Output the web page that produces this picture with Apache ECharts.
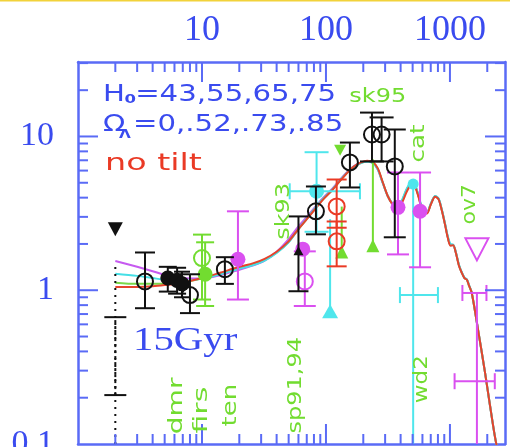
<!DOCTYPE html>
<html>
<head>
<meta charset="utf-8">
<script src="https://cdn.jsdelivr.net/npm/echarts@6/dist/echarts.min.js"></script>
<style>
  html, body { margin: 0; padding: 0; background: #ffffff; }
  #chart { width: 510px; height: 447px; }
</style>
</head>
<body>
<div id="chart"></div>
<script>
// Axis ranges: multipole l (x) and band power (y), both logarithmic
const L_RANGE = [1, 2780];
const P_RANGE = [0.1, 30.5];

// Tick labels and tick marks
const X_TICK_LABELS = [10, 100, 1000];
const Y_TICK_LABELS = [0.1, 1, 10];
const X_MAJOR_TICKS = [10, 100, 1000];
const X_MINOR_TICKS = [2, 3, 4, 5, 6, 7, 8, 9, 20, 30, 40, 50, 60, 70, 80, 90,
  200, 300, 400, 500, 600, 700, 800, 900, 2000];
const Y_MAJOR_TICKS = [1, 10];
const Y_MINOR_TICKS = [0.2, 0.3, 0.4, 0.5, 0.6, 0.7, 0.8, 0.9,
  2, 3, 4, 5, 6, 7, 8, 9, 20, 30];

// Model power spectra [l, power], one per Hubble constant / Lambda pair
const modelMagenta = [[2,1.55],[3,1.42],[4,1.33],[5,1.26],[7,1.2],[10,1.19],[14,1.25],[20,1.36],[26,1.45],[32,1.56],[40,1.78],[50,2.15],[60,2.6],[70,3.0],[80,3.4],[95,4.0],[113,4.6],[137,5.5],[165,6.35],[190,6.75],[215,6.9],[240,6.7],[262,6.1],[288,4.95],[315,4.1],[345,3.62],[375,3.42],[410,3.8],[450,4.5],[490,4.95],[520,4.85],[560,4.05],[605,3.25],[650,3.18],[700,3.62],[760,4.08],[810,3.92],[860,3.32],[910,2.72],[960,2.22],[1010,1.97],[1060,1.97],[1110,1.79],[1180,1.46],[1250,1.29],[1310,1.2],[1370,1.17],[1420,1.08],[1500,0.96],[1700,0.53],[1920,0.29],[2100,0.18],[2300,0.113],[2500,0.08]];
const modelGreen = [[2,1.12],[3,1.1],[4,1.1],[5,1.1],[7,1.13],[10,1.19],[14,1.28],[20,1.39],[26,1.47],[32,1.57],[40,1.76],[50,2.06],[60,2.5],[70,2.9],[80,3.32],[95,3.92],[113,4.52],[137,5.42],[165,6.3],[190,6.72],[215,6.9],[240,6.75],[262,6.15],[288,4.98],[315,4.1],[345,3.62],[375,3.42],[410,3.8],[450,4.55],[490,5.0],[520,4.85],[560,4.05],[605,3.25],[650,3.18],[700,3.62],[760,4.08],[810,3.92],[860,3.32],[910,2.72],[960,2.22],[1010,1.97],[1060,1.97],[1110,1.79],[1180,1.46],[1250,1.29],[1310,1.2],[1370,1.17],[1420,1.08],[1500,0.96],[1700,0.53],[1920,0.29],[2100,0.18],[2300,0.113],[2500,0.08]];
const modelCyan = [[2,1.28],[3,1.24],[4,1.2],[5,1.17],[7,1.15],[10,1.19],[14,1.27],[20,1.38],[26,1.46],[32,1.56],[40,1.75],[50,2.05],[60,2.5],[70,2.92],[80,3.35],[95,3.95],[113,4.55],[137,5.45],[165,6.3],[190,6.7],[215,6.85],[240,6.7],[262,6.1],[288,4.95],[315,4.1],[345,3.65],[375,3.45],[410,3.85],[450,4.6],[490,5.05],[520,4.9],[560,4.1],[605,3.3],[650,3.2],[700,3.65],[760,4.1],[810,3.95],[860,3.35],[910,2.75],[960,2.25],[1010,2.0],[1060,1.98],[1110,1.8],[1180,1.47],[1250,1.3],[1310,1.21],[1370,1.18],[1420,1.09],[1500,0.96],[1700,0.53],[1920,0.29],[2100,0.18],[2300,0.113],[2500,0.08]];
const modelRed = [[2,1.05],[3,1.05],[4,1.06],[5,1.08],[7,1.12],[10,1.2],[14,1.3],[20,1.42],[26,1.5],[32,1.6],[40,1.78],[50,2.08],[60,2.5],[70,2.9],[80,3.3],[95,3.9],[113,4.5],[137,5.4],[165,6.3],[190,6.75],[215,6.95],[240,6.8],[262,6.2],[288,5.0],[315,4.1],[345,3.6],[375,3.38],[410,3.7],[450,4.4],[490,4.85],[520,4.75],[560,4.0],[605,3.2],[650,3.15],[700,3.6],[760,4.05],[810,3.9],[860,3.3],[910,2.7],[960,2.2],[1010,1.95],[1060,1.96],[1110,1.78],[1180,1.45],[1250,1.29],[1310,1.2],[1370,1.17],[1420,1.08],[1500,0.96],[1700,0.53],[1920,0.29],[2100,0.18],[2300,0.113],[2500,0.08]];

// Band-power measurements:
// [l, value, errLow, errHigh, lLow, lHigh, marker, capWidth, dash]
const blackPoints = [
  [2, 0.5, 0.1, 1.5, null, null, 'none', 0, 'dot'],
  [2, 0.4, 0.208, 0.668, null, null, 'none', 22, 'dash'],
  [2, 2.49, null, null, null, null, 'triDown', 0],
  [3.47, 1.14, 0.764, 1.76, null, null, 'open', 20],
  [5.3, 1.2, 0.98, 1.42, null, null, 'filled', 18],
  [6.3, 1.16, 0.95, 1.4, null, null, 'filled', 18],
  [6.9, 1.1, 0.9, 1.32, null, null, 'filled', 16],
  [8.0, 0.93, 0.71, 1.27, null, null, 'open', 20],
  [15.3, 1.37, 1.1, 1.64, null, null, 'open', 18],
  [60, 1.79, 0.985, 3.02, null, null, 'triUpSmall', 20],
  [83, 3.26, 2.31, 4.73, null, null, 'open', 20],
  [156, 6.78, 4.66, 9.13, null, null, 'open', 20],
  [235, 10.3, 6.88, 14.3, null, null, 'open', 24],
  [281, 10.3, 6.88, 13.3, null, null, 'open', 24],
  [359, 6.38, 2.21, 11.1, null, null, 'open', 22]
];
const greenPoints = [
  [10.0, 1.62, 0.87, 2.3, null, null, 'open', 18],
  [10.6, 1.27, 0.79, 2.05, null, null, 'filled', 18],
  [130, 8.2, null, null, null, null, 'triDownSmall', 0],
  [239, 1.93, 1.93, 7.1, null, null, 'triUp', 0],
  [134, 1.76, 1.76, 3.5, null, null, 'triUp', 0]
];
const cyanPoints = [
  [84, 4.4, 2.4, 7.9, 51, 188, 'filled', 24],
  [108, 0.72, 0.72, 2.9, null, null, 'triUpBig', 0],
  [505, 4.9, 0.1, 4.9, null, null, 'filledSmall', 0],
  [505, 0.93, null, null, 395, 800, 'none', 0]
];
const magentaPoints = [
  [19.5, 1.59, 0.87, 3.26, null, null, 'filled', 22],
  [65, 1.85, null, null, null, null, 'filled', 0],
  [67.5, 1.14, 0.79, 1.79, null, null, 'open', 22],
  [381, 3.46, 1.71, 5.83, null, null, 'filled', 22],
  [574, 3.26, 1.41, 5.83, null, null, 'filled', 22],
  [1650, 1.9, null, null, null, null, 'triDownOpen', 0],
  [1650, 0.96, 0.1, 0.96, 1260, 1970, 'none', 0],
  [1650, 0.256, null, null, 1090, 2300, 'none', 0]
];
const redPoints = [
  [122, 3.51, 2.55, 5.25, null, null, 'open', 20],
  [122, 2.08, 1.43, 2.8, null, null, 'open', 20]
];

// Experiment names: [l, value, text, rotated, stretch]
const experimentLabels = [
  [262, 18.2, 'sk95', false, 1.2],
  [45.7, 3.26, 'sk93', true, 1.2],
  [562, 9.0, 'cat', true, 1.22],
  [1450, 3.62, 'ov7', true, 1.1],
  [6.29, 0.177, 'dmr', true, 1.4],
  [10.0, 0.166, 'firs', true, 1.5],
  [17.2, 0.179, 'ten', true, 1.3],
  [57.5, 0.241, 'sp91,94', true, 1.2],
  [594, 0.264, 'wd2', true, 1.15]
];

const BLUE = '#3a4bef';
const FRAME = '#5a6bf6';
const GREEN = '#72dc30';
const CYAN = '#4fe6ec';
const MAGENTA = '#da50f0';
const RED = '#ea3a25';
const BLACK = '#111111';

function pointRenderer(rows, color) {
  return function (params, api) {
    const r = rows[params.dataIndex];
    const l = r[0], v = r[1], lo = r[2], hi = r[3], lLo = r[4], lHi = r[5];
    const marker = r[6], cap = r[7], dash = r[8];
    const kids = [];
    const seg = (x1, y1, x2, y2, d) => ({
      type: 'line', shape: { x1, y1, x2, y2 },
      style: { stroke: color, lineWidth: 2, lineDash: d || null }
    });
    if (lo != null) {
      const a = api.coord([l, lo]);
      const b = api.coord([l, hi]);
      const d = dash === 'dot' ? [2, 5] : (dash === 'dash' ? [3, 3] : null);
      kids.push(seg(a[0], a[1], b[0], b[1], d));
      if (cap) {
        if (lo > P_RANGE[0]) kids.push(seg(a[0] - cap / 2, a[1], a[0] + cap / 2, a[1]));
        kids.push(seg(b[0] - cap / 2, b[1], b[0] + cap / 2, b[1]));
      }
    }
    if (lLo != null) {
      const a = api.coord([lLo, v]);
      const b = api.coord([lHi, v]);
      kids.push(seg(a[0], a[1], b[0], b[1]));
      kids.push(seg(a[0], a[1] - 8, a[0], a[1] + 8));
      kids.push(seg(b[0], b[1] - 8, b[0], b[1] + 8));
    }
    const c = api.coord([l, v]);
    const cx = c[0], cy = c[1];
    const poly = (pts, fill) => ({
      type: 'polygon', shape: { points: pts },
      style: fill ? { fill: color } : { fill: null, stroke: color, lineWidth: 2 }
    });
    switch (marker) {
      case 'open':
        kids.push({ type: 'circle', shape: { cx, cy, r: 8 }, style: { fill: null, stroke: color, lineWidth: 2 } });
        break;
      case 'filled':
        kids.push({ type: 'circle', shape: { cx, cy, r: 7.5 }, style: { fill: color } });
        break;
      case 'filledSmall':
        kids.push({ type: 'circle', shape: { cx, cy, r: 5.5 }, style: { fill: color } });
        break;
      case 'triDown':
        kids.push(poly([[cx - 7.5, cy - 7], [cx + 7.5, cy - 7], [cx, cy + 7]], true));
        break;
      case 'triDownSmall':
        kids.push(poly([[cx - 6, cy - 5], [cx + 6, cy - 5], [cx, cy + 6]], true));
        break;
      case 'triUp':
        kids.push(poly([[cx - 6.5, cy + 6], [cx + 6.5, cy + 6], [cx, cy - 7]], true));
        break;
      case 'triUpBig':
        kids.push(poly([[cx - 8, cy + 6], [cx + 8, cy + 6], [cx, cy - 8]], true));
        break;
      case 'triUpSmall':
        kids.push(poly([[cx - 5, cy + 4], [cx + 5, cy + 4], [cx, cy - 5]], true));
        break;
      case 'triDownOpen':
        kids.push(poly([[cx - 11.5, cy - 9], [cx + 11.5, cy - 9], [cx, cy + 13]], false));
        break;
    }
    return { type: 'group', children: kids };
  };
}

function pointSeries(rows, color) {
  return {
    type: 'custom', coordinateSystem: 'cartesian2d', xAxisIndex: 0, yAxisIndex: 0,
    silent: true, clip: true, z: 5,
    encode: { x: 0, y: 1 },
    data: rows.map(r => [r[0], r[1]]),
    renderItem: pointRenderer(rows, color)
  };
}

function curveSeries(data, color) {
  return {
    type: 'line', xAxisIndex: 0, yAxisIndex: 0, data: data,
    showSymbol: false, symbol: 'none', smooth: 0.3, silent: true, z: 3,
    lineStyle: { color: color, width: 2 }
  };
}

// Inward ticks on all four frame sides
function tickSeries(values, isX, len) {
  return {
    type: 'custom', coordinateSystem: 'cartesian2d', xAxisIndex: 0, yAxisIndex: 0,
    silent: true, z: 6, clip: false,
    encode: { x: 0, y: 1 },
    data: values.map(t => isX ? [t, 1] : [1, t]),
    renderItem: function (params, api) {
      const cs = params.coordSys;
      const st = { stroke: FRAME, lineWidth: 2 };
      if (isX) {
        const px = api.coord([api.value(0), 1])[0];
        return { type: 'group', children: [
          { type: 'line', shape: { x1: px, y1: cs.y, x2: px, y2: cs.y + len }, style: st },
          { type: 'line', shape: { x1: px, y1: cs.y + cs.height, x2: px, y2: cs.y + cs.height - len }, style: st }
        ] };
      }
      const py = api.coord([1, api.value(1)])[1];
      return { type: 'group', children: [
        { type: 'line', shape: { x1: cs.x, y1: py, x2: cs.x + len, y2: py }, style: st },
        { type: 'line', shape: { x1: cs.x + cs.width, y1: py, x2: cs.x + cs.width - len, y2: py }, style: st }
      ] };
    }
  };
}

const labelSeries = {
  type: 'custom', coordinateSystem: 'cartesian2d', xAxisIndex: 0, yAxisIndex: 0,
  silent: true, z: 7, clip: false,
  encode: { x: 0, y: 1 },
  data: experimentLabels.map(r => [r[0], r[1]]),
  renderItem: function (params, api) {
    const r = experimentLabels[params.dataIndex];
    const c = api.coord([r[0], r[1]]);
    return {
      type: 'text', x: c[0], y: c[1],
      rotation: r[3] ? Math.PI / 2 : 0,
      scaleX: r[4],
      style: { text: r[2], fill: GREEN, font: '20px "DejaVu Sans"', align: 'center', verticalAlign: 'middle' }
    };
  }
};

function labelFor(list) {
  return function (v) {
    const hit = list.find(t => Math.abs(t - v) / t < 1e-6);
    return hit === undefined ? '' : String(hit);
  };
}

const axisLineStyle = { show: true, onZero: false, lineStyle: { color: FRAME, width: 2.5 } };

const chart = echarts.init(document.getElementById('chart'), null, { renderer: 'canvas' });
chart.setOption({
  animation: false,
  backgroundColor: '#ffffff',
  grid: { left: 78, right: 5, top: 62, bottom: 3, containLabel: false, outerBoundsMode: 'none' },
  xAxis: [
    {
      type: 'log', logBase: 10, min: L_RANGE[0], max: L_RANGE[1], position: 'top',
      axisLine: axisLineStyle, axisTick: { show: false }, splitLine: { show: false },
      axisLabel: { show: true, margin: 13, color: BLUE, fontFamily: 'Liberation Serif', fontSize: 36,
        formatter: labelFor(X_TICK_LABELS) }
    },
    {
      type: 'log', logBase: 10, min: L_RANGE[0], max: L_RANGE[1], position: 'bottom',
      axisLine: axisLineStyle, axisTick: { show: false }, splitLine: { show: false },
      axisLabel: { show: false }
    }
  ],
  yAxis: [
    {
      type: 'log', logBase: 10, min: P_RANGE[0], max: P_RANGE[1], position: 'left',
      axisLine: axisLineStyle, axisTick: { show: false }, splitLine: { show: false },
      axisLabel: { show: true, margin: 24, color: BLUE, fontFamily: 'Liberation Serif', fontSize: 34,
        formatter: labelFor(Y_TICK_LABELS) }
    },
    {
      type: 'log', logBase: 10, min: P_RANGE[0], max: P_RANGE[1], position: 'right',
      axisLine: axisLineStyle, axisTick: { show: false }, splitLine: { show: false },
      axisLabel: { show: false }
    }
  ],
  graphic: [
    { type: 'rect', shape: { x: 0, y: 0, width: 510, height: 1.5 }, style: { fill: '#f2d23a' } },
    {
      type: 'group', x: 103, y: 95, scaleX: 1.27,
      children: [
        { type: 'text', x: 0, y: 0, style: { text: 'H', fill: BLUE, font: '23px "DejaVu Sans"', verticalAlign: 'middle' } },
        { type: 'text', x: 17, y: 5, style: { text: '0', fill: BLUE, font: 'bold 13px "DejaVu Sans"', verticalAlign: 'middle' } },
        { type: 'text', x: 25.3, y: 0, style: { text: '=43,55,65,75', fill: BLUE, font: '23px "DejaVu Sans"', verticalAlign: 'middle' } }
      ]
    },
    {
      type: 'group', x: 103, y: 125, scaleX: 1.27,
      children: [
        { type: 'text', x: 0, y: 0, style: { text: 'Ω', fill: BLUE, font: '23px "DejaVu Sans"', verticalAlign: 'middle' } },
        { type: 'text', x: 12.6, y: 10, style: { text: 'Λ', fill: BLUE, font: 'bold 12px "DejaVu Sans"', verticalAlign: 'middle' } },
        { type: 'text', x: 23.6, y: 0, style: { text: '=0,.52,.73,.85', fill: BLUE, font: '23px "DejaVu Sans"', verticalAlign: 'middle' } }
      ]
    },
    {
      type: 'text', x: 105, y: 164, scaleX: 1.45,
      style: { text: 'no tilt', fill: RED, font: '23px "DejaVu Sans"', verticalAlign: 'middle' }
    },
    {
      type: 'text', x: 133, y: 341.5, scaleX: 1.2,
      style: { text: '15Gyr', fill: BLUE, font: '34px "Liberation Serif"', verticalAlign: 'middle' }
    }
  ],
  series: [
    curveSeries(modelMagenta, '#c65af0'),
    curveSeries(modelGreen, '#7ad84a'),
    curveSeries(modelCyan, '#45dfe6'),
    curveSeries(modelRed, '#e6432c'),
    pointSeries(cyanPoints, CYAN),
    pointSeries(greenPoints, GREEN),
    pointSeries(magentaPoints, MAGENTA),
    pointSeries(redPoints, RED),
    pointSeries(blackPoints, BLACK),
    tickSeries(X_MAJOR_TICKS, true, 20),
    tickSeries(X_MINOR_TICKS, true, 10),
    tickSeries(Y_MAJOR_TICKS, false, 20),
    tickSeries(Y_MINOR_TICKS, false, 10),
    labelSeries
  ]
});
</script>
</body>
</html>
